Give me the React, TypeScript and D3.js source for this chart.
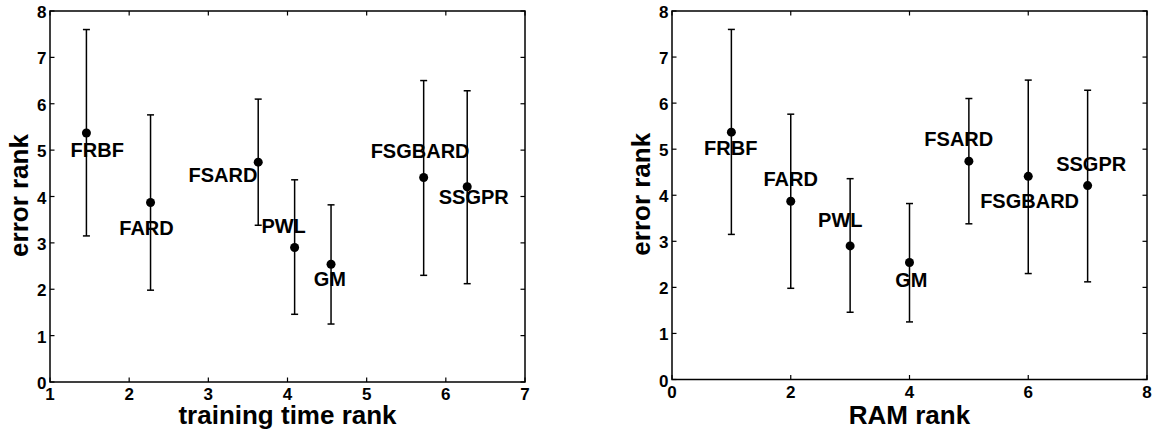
import * as d3 from "d3";

const methods = ["FRBF", "FARD", "FSARD", "PWL", "GM", "FSGBARD", "SSGPR"];
const errorRank = [5.37, 3.87, 4.74, 2.9, 2.54, 4.41, 4.21];
const errorUpper = [7.6, 5.76, 6.1, 4.36, 3.82, 6.5, 6.28];
const errorLower = [3.15, 1.98, 3.38, 1.46, 1.25, 2.3, 2.12];
const trainingTimeRank = [1.46, 2.27, 3.63, 4.09, 4.55, 5.72, 6.27];
const ramRank = [1, 2, 5, 3, 4, 6, 7];

// text anchors in data units (left edge, baseline), as placed in the figure
const trainLabelX = [1.26, 1.875, 2.75, 3.67, 4.33, 5.05, 5.91];
const trainLabelY = [4.86, 3.17, 4.32, 3.22, 2.07, 4.84, 3.83];
const ramLabelX = [0.54, 1.54, 4.25, 2.46, 3.76, 5.19, 6.47];
const ramLabelY = [4.87, 4.21, 5.08, 3.3, 2.01, 3.72, 4.53];

const yTicks = [0, 1, 2, 3, 4, 5, 6, 7, 8];
const trainXTicks = [1, 2, 3, 4, 5, 6, 7];
const ramXTicks = [0, 2, 4, 6, 8];

const FONT = "'Liberation Sans', Arial, Helvetica, sans-serif";

type PanelProps = {
  left: number;
  right: number;
  top: number;
  bottom: number;
  xDomain: [number, number];
  xs: number[];
  xTicks: number[];
  labelX: number[];
  labelY: number[];
  xTitle: string;
};

function Panel(p: PanelProps) {
  const x = d3.scaleLinear().domain(p.xDomain).range([p.left, p.right]);
  const y = d3.scaleLinear().domain([0, 8]).range([p.bottom, p.top]);
  const tl = 4.5;
  const cap = 3.5;
  const midX = (p.left + p.right) / 2;
  const midY = (p.top + p.bottom) / 2;

  return (
    <g fontFamily={FONT} fontWeight="bold" fill="#000">
      <rect
        x={p.left}
        y={p.top}
        width={p.right - p.left}
        height={p.bottom - p.top}
        fill="none"
        stroke="#000"
        strokeWidth={1.5}
      />
      {p.xTicks.map((t) => (
        <g key={"xt" + t}>
          <line x1={x(t)} x2={x(t)} y1={p.bottom} y2={p.bottom - tl} stroke="#000" strokeWidth={1.2} />
          <line x1={x(t)} x2={x(t)} y1={p.top} y2={p.top + tl} stroke="#000" strokeWidth={1.2} />
          <text x={x(t)} y={p.bottom + 18} textAnchor="middle" fontSize={17}>
            {t}
          </text>
        </g>
      ))}
      {yTicks.map((t) => (
        <g key={"yt" + t}>
          <line x1={p.left} x2={p.left + tl} y1={y(t)} y2={y(t)} stroke="#000" strokeWidth={1.2} />
          <line x1={p.right} x2={p.right - tl} y1={y(t)} y2={y(t)} stroke="#000" strokeWidth={1.2} />
          <text x={p.left - 3.5} y={y(t) + 7} textAnchor="end" fontSize={17}>
            {t}
          </text>
        </g>
      ))}
      {methods.map((m, i) => {
        const cx = x(p.xs[i]);
        return (
          <g key={m}>
            <line x1={cx} x2={cx} y1={y(errorUpper[i])} y2={y(errorLower[i])} stroke="#000" strokeWidth={1.5} />
            <line x1={cx - cap} x2={cx + cap} y1={y(errorUpper[i])} y2={y(errorUpper[i])} stroke="#000" strokeWidth={1.5} />
            <line x1={cx - cap} x2={cx + cap} y1={y(errorLower[i])} y2={y(errorLower[i])} stroke="#000" strokeWidth={1.5} />
            <circle cx={cx} cy={y(errorRank[i])} r={4.5} fill="#000" />
            <text x={x(p.labelX[i])} y={y(p.labelY[i])} fontSize={20}>
              {m}
            </text>
          </g>
        );
      })}
      <text x={midX} y={424} textAnchor="middle" fontSize={26}>
        {p.xTitle}
      </text>
      <text
        transform={`translate(${p.left - 22},${midY - 1}) rotate(-90)`}
        textAnchor="middle"
        fontSize={26}
      >
        error rank
      </text>
    </g>
  );
}

export default function App() {
  return (
    <svg
      width={1155}
      height={433}
      style={{ position: "absolute", left: 0, top: 0, background: "#fff" }}
    >
      <rect width={1155} height={433} fill="#fff" />
      <Panel
        left={50}
        right={525}
        top={11}
        bottom={382}
        xDomain={[1, 7]}
        xs={trainingTimeRank}
        xTicks={trainXTicks}
        labelX={trainLabelX}
        labelY={trainLabelY}
        xTitle="training time rank"
      />
      <Panel
        left={672}
        right={1147}
        top={11}
        bottom={379.5}
        xDomain={[0, 8]}
        xs={ramRank}
        xTicks={ramXTicks}
        labelX={ramLabelX}
        labelY={ramLabelY}
        xTitle="RAM rank"
      />
    </svg>
  );
}
